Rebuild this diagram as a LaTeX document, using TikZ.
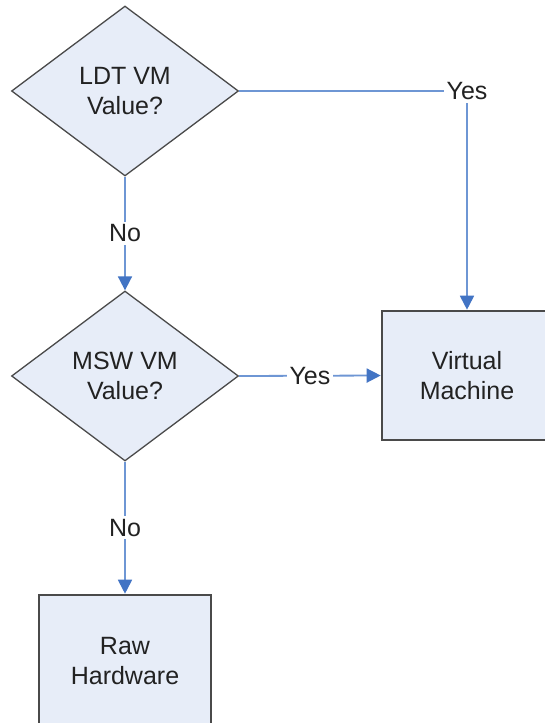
\documentclass[tikz,border=0pt]{standalone}
\usepackage{fontspec}
\setmainfont{Liberation Sans}
\usetikzlibrary{shapes.geometric,arrows.meta}
\definecolor{boxfill}{HTML}{E7EDF8}
\definecolor{boxline}{HTML}{4A4A4A}
\definecolor{conn}{HTML}{6E96D4}
\definecolor{tip}{HTML}{4274C4}
\definecolor{txt}{HTML}{222222}
\begin{document}
\begin{tikzpicture}[x=1pt,y=-1pt,
  every node/.style={font=\fontsize{25}{30}\selectfont, text=txt},
  decision/.style={diamond, draw=boxline, line width=1.3pt, fill=boxfill,
    minimum width=227pt, minimum height=170pt, inner sep=0pt, aspect=1.335, align=center},
  process/.style={rectangle, draw=boxline, line width=2.6pt, fill=boxfill,
    minimum width=170pt, minimum height=129pt, inner sep=0pt, align=center},
  flow/.style={draw=conn, line width=1.8pt, -{Triangle[width=14pt,length=14pt,fill=tip,color=tip]}},
  lbl/.style={fill=white, inner sep=3pt}]
\useasboundingbox (0,0) rectangle (545,723);
\clip (0,0) rectangle (545,723);
\fill[white] (0,0) rectangle (545,723);
\node[decision] (d1) at (125,91) {LDT VM\\Value?};
\node[decision] (d2) at (125,376) {MSW VM\\Value?};
\node[process] (vm) at (467,375.5) {Virtual\\Machine};
\node[process, minimum width=172pt, minimum height=132pt] (raw) at (125,661) {Raw\\Hardware};
\draw[flow] (d1.east) -| node[lbl, pos=0.5] {Yes} (vm.north);
\draw[flow] (d2.east) -- node[lbl] {Yes} (vm.west);
\draw[flow] (d1.south) -- node[lbl] {No} (d2.north);
\draw[flow] (d2.south) -- node[lbl] {No} (raw.north);
\end{tikzpicture}
\end{document}
